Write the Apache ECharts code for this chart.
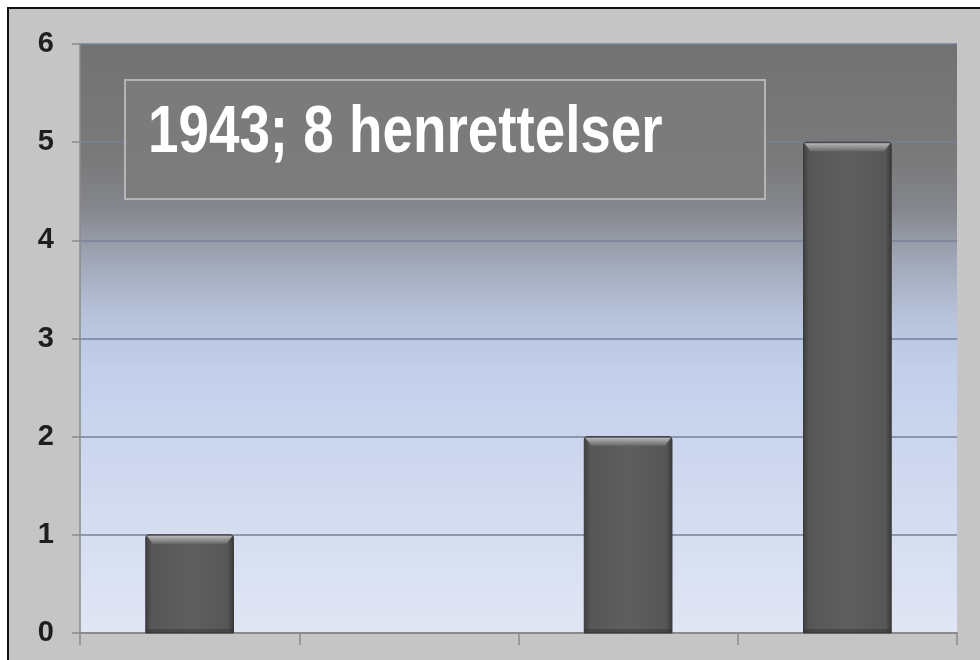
<!DOCTYPE html>
<html>
<head>
<meta charset="utf-8">
<script src="https://cdn.jsdelivr.net/npm/echarts@6/dist/echarts.min.js"></script>
<style>
html,body{margin:0;padding:0;background:#ffffff;}
#frame{position:absolute;left:7px;top:7px;width:973px;height:653px;background:#c5c5c5;border-left:2px solid #111;border-top:2px solid #111;box-sizing:border-box;}
#chart{position:absolute;left:0;top:0;width:980px;height:660px;}
</style>
</head>
<body>
<div id="frame"></div>
<div id="chart"></div>
<script>
const categories = ['A', 'B', 'C', 'D'];
const values = [1, 0, 2, 5];
const yTicks = [0, 1, 2, 3, 4, 5, 6];
const titleText = '1943; 8 henrettelser';

const chart = echarts.init(document.getElementById('chart'), null, {renderer: 'canvas'});

function renderBar(params, api) {
  const idx = api.value(0);
  const v = api.value(1);
  if (!v) return null;
  const top = api.coord([idx, v]);
  const bot = api.coord([idx, 0]);
  const w = api.size([1, 0])[0] * 0.4;
  const l = top[0] - w / 2, r = top[0] + w / 2;
  const t = top[1], b = bot[1];
  const bev = 9;
  return {
    type: 'group',
    children: [
      {
        type: 'rect',
        shape: {x: l, y: t, width: w, height: b - t, r: [3, 3, 0, 0]},
        style: {
          fill: new echarts.graphic.LinearGradient(0, 0, 1, 0, [
            {offset: 0, color: '#3e3e3e'},
            {offset: 0.07, color: '#565656'},
            {offset: 0.5, color: '#5f5f5f'},
            {offset: 0.93, color: '#565656'},
            {offset: 1, color: '#383838'}
          ]),
          stroke: '#3a3a3a', lineWidth: 1
        }
      },
      {
        type: 'polygon',
        shape: {points: [[l + 1, t + 1], [r - 1, t + 1], [r - 7, t + bev], [l + 7, t + bev]]},
        style: {
          fill: new echarts.graphic.LinearGradient(0, 0, 0, 1, [
            {offset: 0, color: '#b8b8b8'},
            {offset: 1, color: '#6a6a6a'}
          ])
        }
      },
      {
        type: 'rect',
        shape: {x: l, y: b - 4, width: w, height: 4},
        style: {fill: 'rgba(40,40,40,0.35)'}
      }
    ]
  };
}

const option = {
  backgroundColor: 'transparent',
  animation: false,
  grid: {
    left: 80, right: 23, top: 44, bottom: 27,
    show: true, borderWidth: 0,
    backgroundColor: new echarts.graphic.LinearGradient(0, 0, 0, 1, [
      {offset: 0, color: '#727272'},
      {offset: 0.2, color: '#7a7a7b'},
      {offset: 0.28, color: '#85878d'},
      {offset: 0.36, color: '#9ea4b3'},
      {offset: 0.46, color: '#b7c2da'},
      {offset: 0.55, color: '#c3cfeb'},
      {offset: 1, color: '#e0e6f4'}
    ])
  },
  xAxis: {
    type: 'category',
    data: categories,
    boundaryGap: true,
    axisLine: {show: true, lineStyle: {color: '#8a8a8a', width: 2}},
    axisTick: {show: true, length: 12, alignWithLabel: false, lineStyle: {color: '#8a8a8a', width: 1.5}},
    axisLabel: {show: false}
  },
  yAxis: {
    type: 'value',
    min: 0, max: 6, interval: 1,
    axisLine: {show: true, lineStyle: {color: '#8a8a8a', width: 1.5}},
    axisTick: {show: true, length: 8, lineStyle: {color: '#8a8a8a', width: 1.5}},
    axisLabel: {
      margin: 26,
      fontFamily: "'Liberation Sans', Arial, sans-serif",
      fontWeight: 'bold',
      fontSize: 29,
      color: '#1e1e1e',
      formatter: function (v) { return yTicks.indexOf(v) >= 0 ? String(v) : ''; }
    },
    splitLine: {show: true, lineStyle: {color: '#75829a', width: 1.5}}
  },
  series: [{
    type: 'custom',
    renderItem: renderBar,
    data: values.map(function (v, i) { return [i, v]; }),
    encode: {x: 0, y: 1},
    z: 5
  }],
  graphic: [
    {
      type: 'rect',
      z: 10,
      shape: {x: 125, y: 80, width: 640, height: 119},
      style: {fill: 'rgba(124,124,124,0.92)', stroke: '#b4b4b4', lineWidth: 2}
    },
    {
      type: 'text',
      z: 11,
      x: 148, y: 134,
      scaleX: 0.83,
      style: {
        text: titleText,
        fill: '#ffffff',
        fontFamily: "'Liberation Sans', Arial, sans-serif",
        fontWeight: 'bold',
        fontSize: 66,
        verticalAlign: 'middle',
        align: 'left'
      }
    }
  ]
};
chart.setOption(option);
</script>
</body>
</html>
